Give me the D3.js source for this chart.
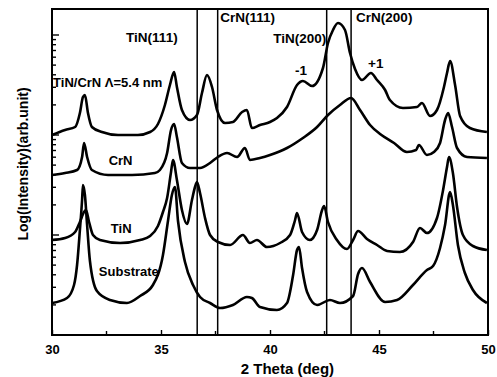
<!DOCTYPE html>
<html>
<head>
<meta charset="utf-8">
<script src="https://cdnjs.cloudflare.com/ajax/libs/d3/7.8.5/d3.min.js"></script>
<style>
  body { margin: 0; background: #fff; }
  svg text { font-family: Arial, "Liberation Sans", sans-serif; font-weight: bold; fill: #000; }
</style>
</head>
<body>
<div id="chart"></div>
<script>
// [2theta (deg), log10 intensity (arb.)]
const multilayer = [
  [30.00, 2.00], [30.60, 2.05], [31.06, 2.08], [31.28, 2.22], [31.42, 2.38], [31.51, 2.40],
  [31.65, 2.22], [31.83, 2.08], [32.29, 2.03], [33.03, 2.00], [33.94, 2.00], [34.50, 2.03],
  [34.86, 2.11], [35.18, 2.30], [35.41, 2.50], [35.60, 2.63], [35.73, 2.48], [35.96, 2.25],
  [36.33, 2.15], [36.65, 2.20], [36.88, 2.42], [37.11, 2.60], [37.34, 2.48], [37.57, 2.25],
  [37.94, 2.12], [38.30, 2.13], [38.72, 2.23], [38.94, 2.25], [39.17, 2.07], [39.54, 2.10],
  [40.00, 2.13], [40.32, 2.17], [40.78, 2.28], [41.24, 2.50], [41.51, 2.54], [41.93, 2.49],
  [42.43, 2.67], [42.66, 2.92], [42.89, 3.05], [43.12, 3.12], [43.44, 3.05], [43.67, 2.82],
  [43.90, 2.66], [44.22, 2.55], [44.63, 2.62], [44.91, 2.55], [45.28, 2.45], [45.50, 2.35],
  [46.10, 2.27], [46.74, 2.28], [46.97, 2.32], [47.34, 2.19], [47.66, 2.25], [47.98, 2.48],
  [48.12, 2.62], [48.26, 2.74], [48.49, 2.50], [48.72, 2.19], [49.17, 2.07], [49.95, 2.03]
];
const crn = [
  [30.00, 1.60], [30.60, 1.62], [31.15, 1.65], [31.38, 1.78], [31.47, 1.92], [31.61, 1.78],
  [31.83, 1.65], [32.57, 1.60], [33.67, 1.60], [34.72, 1.62], [34.95, 1.65], [35.28, 1.82],
  [35.46, 2.05], [35.60, 2.11], [35.73, 1.98], [35.96, 1.72], [36.33, 1.67], [36.79, 1.67],
  [37.25, 1.72], [37.61, 1.78], [38.03, 1.82], [38.49, 1.78], [38.85, 1.87], [39.08, 1.75],
  [39.54, 1.77], [40.00, 1.80], [40.78, 1.87], [41.51, 1.97], [42.16, 2.08], [42.66, 2.20],
  [43.21, 2.30], [43.72, 2.37], [44.13, 2.25], [44.59, 2.10], [45.05, 2.01], [45.69, 1.92],
  [46.28, 1.83], [46.70, 1.85], [46.83, 1.90], [47.20, 1.80], [47.52, 1.83], [47.80, 1.92],
  [48.03, 2.15], [48.17, 2.22], [48.35, 2.08], [48.58, 1.87], [49.04, 1.78], [49.95, 1.77]
];
const tin = [
  [30.00, 0.95], [30.60, 0.97], [31.06, 1.03], [31.28, 1.13], [31.47, 1.23], [31.56, 1.25],
  [31.70, 1.13], [31.88, 1.00], [32.20, 0.95], [33.12, 0.92], [34.04, 0.95], [34.50, 0.99],
  [34.86, 1.09], [35.09, 1.23], [35.28, 1.37], [35.46, 1.63], [35.55, 1.75], [35.73, 1.55],
  [35.96, 1.25], [36.19, 1.11], [36.42, 1.35], [36.56, 1.48], [36.65, 1.53], [36.79, 1.42],
  [37.02, 1.17], [37.25, 1.00], [37.61, 0.93], [38.17, 0.90], [38.76, 1.00], [39.08, 0.92],
  [39.40, 0.95], [39.86, 0.88], [40.46, 0.92], [40.92, 1.00], [41.15, 1.15], [41.24, 1.22],
  [41.47, 1.03], [41.83, 0.95], [42.16, 1.05], [42.39, 1.25], [42.48, 1.29], [42.66, 1.13],
  [43.07, 0.95], [43.53, 0.86], [43.81, 0.95], [44.04, 1.04], [44.45, 0.96], [44.91, 0.90],
  [45.37, 0.84], [45.96, 0.83], [46.56, 0.93], [46.88, 1.07], [47.20, 1.02], [47.66, 1.17],
  [47.94, 1.45], [48.12, 1.68], [48.21, 1.78], [48.39, 1.62], [48.58, 1.28], [48.85, 1.00],
  [49.31, 0.89], [49.95, 0.85]
];
const substrate = [
  [30.00, 0.32], [30.69, 0.37], [31.01, 0.50], [31.15, 0.70], [31.28, 1.05], [31.38, 1.35],
  [31.42, 1.50], [31.51, 1.40], [31.61, 1.10], [31.74, 0.74], [32.06, 0.44], [32.66, 0.35],
  [33.44, 0.32], [34.04, 0.39], [34.63, 0.50], [35.09, 0.80], [35.32, 1.14], [35.50, 1.40],
  [35.64, 1.48], [35.78, 1.14], [36.10, 0.73], [36.47, 0.50], [36.79, 0.38], [37.25, 0.32],
  [37.71, 0.27], [38.30, 0.30], [38.94, 0.38], [39.17, 0.37], [39.54, 0.28], [40.32, 0.25],
  [40.78, 0.32], [41.06, 0.60], [41.24, 0.85], [41.33, 0.88], [41.47, 0.67], [41.70, 0.43],
  [42.16, 0.30], [42.75, 0.35], [43.21, 0.32], [43.81, 0.39], [44.04, 0.61], [44.22, 0.67],
  [44.59, 0.53], [45.28, 0.33], [45.83, 0.35], [46.56, 0.50], [47.20, 0.65], [47.48, 0.69],
  [47.80, 0.87], [48.03, 1.10], [48.26, 1.43], [48.39, 1.30], [48.62, 0.90], [48.94, 0.62],
  [49.31, 0.45], [49.95, 0.32]
];

const series = [multilayer, crn, tin, substrate];
const refLines = [36.66, 37.6, 42.6, 43.72];
const xTicks = [30, 35, 40, 45, 50];
const xMinorTicks = [32.5, 37.5, 42.5, 47.5];
const peakLabels = [
  {text: "TiN(111)", x: 33.4, y: 2.93},
  {text: "CrN(111)", x: 37.72, y: 3.13},
  {text: "TiN(200)", x: 40.15, y: 2.92},
  {text: "CrN(200)", x: 43.95, y: 3.13},
  {text: "-1", x: 41.15, y: 2.6},
  {text: "+1", x: 44.5, y: 2.67}
];
const curveLabels = [
  {text: "TiN/CrN \u039b=5.4 nm", x: 30.05, y: 2.48},
  {text: "CrN", x: 32.6, y: 1.70},
  {text: "TiN", x: 32.7, y: 1.02},
  {text: "Substrate", x: 32.15, y: 0.59}
];

const W = 497, H = 377;
const margin = {top: 9, right: 9, bottom: 42, left: 52};
const width = W - margin.left - margin.right;
const height = H - margin.top - margin.bottom;

const svg = d3.select("#chart").append("svg")
  .attr("width", W).attr("height", H);
const g = svg.append("g").attr("transform", `translate(${margin.left},${margin.top})`);

const x = d3.scaleLinear().domain([30, 50]).range([0, width]);
const y = d3.scaleLinear().domain([0, 3.26]).range([height, 0]);

// log-style ticks on the left, pointing in
const yTicks = [];
for (let n = 0; n <= 3; n++) {
  for (let k = 1; k <= 9; k++) {
    const v = n + Math.log10(k);
    if (v <= 3.26) yTicks.push({v: v, major: k === 1});
  }
}
g.selectAll(".ytick").data(yTicks).join("line")
  .attr("x1", 0).attr("x2", d => d.major ? 7 : 4)
  .attr("y1", d => y(d.v)).attr("y2", d => y(d.v))
  .attr("stroke", "#000").attr("stroke-width", 1.4);

// bottom axis, ticks pointing in
const xAxis = g.append("g").attr("transform", `translate(0,${height})`)
  .call(d3.axisBottom(x).tickValues(xTicks).tickSize(-5).tickPadding(10).tickFormat(d3.format("d")));
xAxis.select(".domain").remove();
xAxis.selectAll("line").attr("stroke-width", 1.4);
xAxis.selectAll("text").style("font-size", "13px").attr("font-family", null);
g.selectAll(".xminor").data(xMinorTicks).join("line")
  .attr("x1", d => x(d)).attr("x2", d => x(d))
  .attr("y1", height).attr("y2", height - 4)
  .attr("stroke", "#000").attr("stroke-width", 1.4);

// reference lines
g.selectAll(".ref").data(refLines).join("line")
  .attr("x1", d => x(d)).attr("x2", d => x(d))
  .attr("y1", 0).attr("y2", height)
  .attr("stroke", "#000").attr("stroke-width", 1.5);

// traces
const line = d3.line()
  .x(d => x(d[0])).y(d => y(d[1]))
  .curve(d3.curveMonotoneX);
g.selectAll(".trace").data(series).join("path")
  .attr("d", line)
  .attr("fill", "none").attr("stroke", "#000")
  .attr("stroke-width", 2.6).attr("stroke-linejoin", "round");

// frame
g.append("rect").attr("width", width).attr("height", height)
  .attr("fill", "none").attr("stroke", "#000").attr("stroke-width", 2);

// labels
g.selectAll(".plabel").data(peakLabels).join("text")
  .attr("x", d => x(d.x)).attr("y", d => y(d.y))
  .style("font-size", "13.5px").text(d => d.text);
g.selectAll(".clabel").data(curveLabels).join("text")
  .attr("x", d => x(d.x)).attr("y", d => y(d.y))
  .style("font-size", "13px").text(d => d.text);

svg.append("text")
  .attr("x", margin.left + x(40.8)).attr("y", 374)
  .attr("text-anchor", "middle").style("font-size", "15px")
  .text("2 Theta (deg)");
svg.append("text")
  .attr("transform", `translate(28,${margin.top + height / 2 - 8}) rotate(-90)`)
  .attr("text-anchor", "middle").style("font-size", "14px")
  .text("Log(Intensity)(arb.unit)");
</script>
</body>
</html>
